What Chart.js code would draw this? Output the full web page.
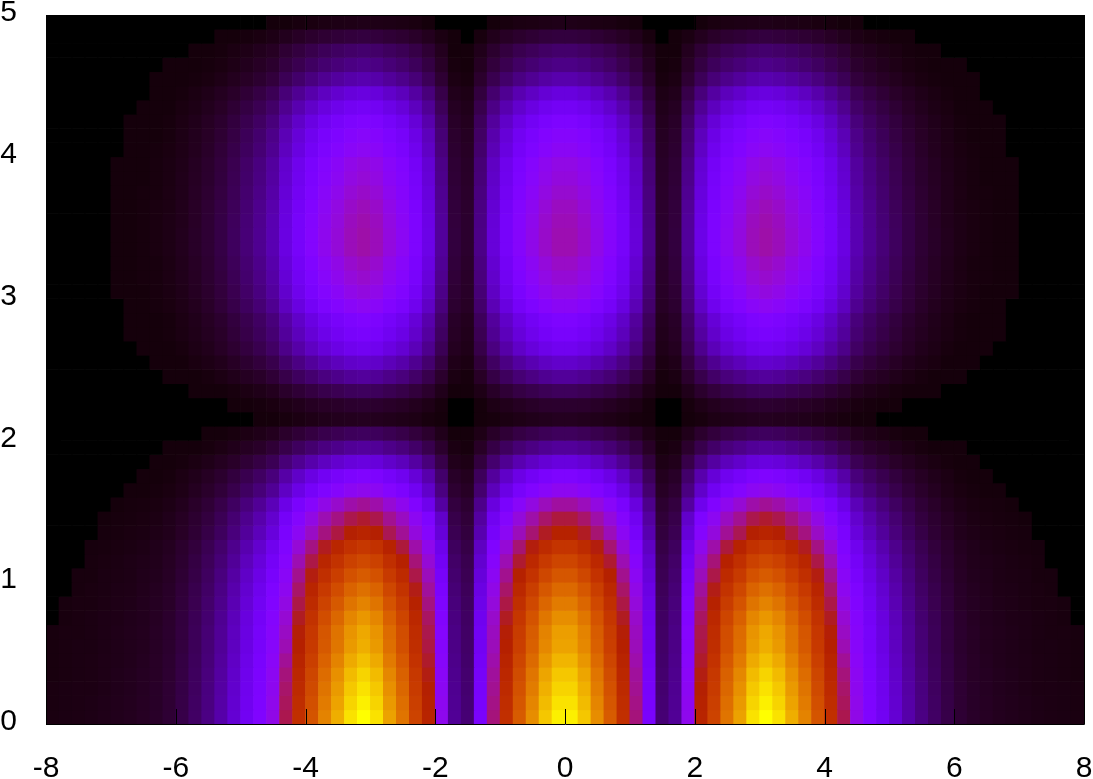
<!DOCTYPE html>
<html><head><meta charset="utf-8"><style>html,body{margin:0;padding:0;background:#fff}canvas{display:block}</style>
<script src="https://cdn.jsdelivr.net/npm/chart.js@4"></script></head><body>
<canvas id="c" width="1093" height="779"></canvas>
<script>
const xTicks=[-8,-6,-4,-2,0,2,4,6,8];
const yTicks=[0,1,2,3,4,5];
const xMin=-8,xCell=0.2,yCell=0.1;
// Cell levels, in thousandths of the colour range; first row is y = 0..0.1
const zRows=[
[10,11,12,13,15,17,19,22,26,33,46,64,86,115,155,200,250,320,450,570,690,800,880,960,1000,960,860,770,640,520,310,100,75,230,420,570,710,820,920,980,980,920,820,710,570,420,230,75,100,310,520,640,770,860,960,1000,960,880,800,690,570,450,320,250,200,155,115,86,64,46,33,26,22,19,17,15,13,12,11,10],
[10,11,12,13,15,17,19,22,25,32,45,63,84,113,152,196,245,314,441,559,676,784,862,941,980,941,843,755,627,510,304,98,74,225,412,559,696,804,902,960,960,902,804,696,559,412,225,74,98,304,510,627,755,843,941,980,941,862,784,676,559,441,314,245,196,152,113,84,63,45,32,25,22,19,17,15,13,12,11,10],
[10,11,12,12,14,16,18,21,25,32,44,61,83,110,149,192,240,307,432,547,662,768,845,922,960,922,826,739,614,499,298,96,72,221,403,547,682,787,883,941,941,883,787,682,547,403,221,72,96,298,499,614,739,826,922,960,922,845,768,662,547,432,307,240,192,149,110,83,61,44,32,25,21,18,16,14,12,12,11,10],
[9,10,11,12,14,16,18,21,24,31,43,60,81,108,146,188,235,301,420,536,649,752,827,902,940,902,808,724,602,489,291,94,71,216,395,536,667,771,865,921,921,865,771,667,536,395,216,71,94,291,489,602,724,808,902,940,902,827,752,649,536,420,301,235,188,146,108,81,60,43,31,24,21,18,16,14,12,11,10,9],
[9,10,11,12,14,15,17,20,24,30,42,58,78,105,141,182,228,291,400,519,628,728,801,874,910,874,783,701,582,473,282,91,68,209,382,519,646,746,837,892,892,837,746,646,519,382,209,68,91,282,473,582,701,783,874,910,874,801,728,628,519,400,291,228,182,141,105,78,58,42,30,24,20,17,15,14,12,11,10,9],
[9,10,11,11,13,15,17,19,23,29,40,56,76,101,136,176,220,282,375,502,607,704,774,845,880,845,757,678,563,458,273,88,66,202,370,502,625,722,810,862,862,810,722,625,502,370,202,66,88,273,458,563,678,757,845,880,845,774,704,607,502,375,282,220,176,136,101,76,56,40,29,23,19,17,15,13,11,11,10,9],
[9,10,10,11,13,15,17,19,23,29,40,56,75,100,135,174,218,278,360,496,600,696,766,835,870,835,748,670,557,452,270,87,65,200,365,496,618,713,800,853,853,800,713,618,496,365,200,65,87,270,452,557,670,748,835,870,835,766,696,600,496,360,278,218,174,135,100,75,56,40,29,23,19,17,15,13,11,10,10,9],
[0,9,10,11,13,14,16,18,22,28,39,54,72,97,130,168,210,269,345,479,580,672,739,806,840,806,722,647,538,437,260,84,63,193,353,479,596,689,773,823,823,773,689,596,479,353,193,63,84,260,437,538,647,722,806,840,806,739,672,580,479,345,269,210,168,130,97,72,54,39,28,22,18,16,14,13,11,10,9,0],
[0,9,10,10,12,14,15,18,21,26,37,51,69,92,124,160,200,256,325,456,552,640,704,768,800,768,688,616,512,416,248,80,60,184,336,456,568,656,736,784,784,736,656,568,456,336,184,60,80,248,416,512,616,688,768,800,768,704,640,552,456,325,256,200,160,124,92,69,51,37,26,21,18,15,14,12,10,10,9,0],
[0,0,9,10,11,13,14,17,20,25,35,49,65,87,118,152,190,243,305,433,524,608,669,730,760,730,654,585,486,395,236,76,57,175,319,433,540,623,699,745,745,699,623,540,433,319,175,57,76,236,395,486,585,654,730,760,730,669,608,524,433,305,243,190,152,118,87,65,49,35,25,20,17,14,13,11,10,9,0,0],
[0,0,9,9,11,12,13,16,18,23,33,45,61,82,110,142,178,227,290,405,490,568,625,682,710,682,611,547,454,369,220,71,53,163,298,405,504,582,653,696,696,653,582,504,405,298,163,53,71,220,369,454,547,611,682,710,682,625,568,490,405,290,227,178,142,110,82,61,45,33,23,18,16,13,12,11,9,9,0,0],
[0,0,0,9,10,11,13,15,17,22,30,42,57,76,102,132,165,211,270,376,455,528,581,634,660,634,568,508,422,343,205,66,50,152,277,376,469,541,607,647,647,607,541,469,376,277,152,50,66,205,343,422,508,568,634,660,634,581,528,455,376,270,211,165,132,102,76,57,42,30,22,17,15,13,11,10,9,0,0,0],
[0,0,0,8,9,10,11,13,16,20,28,38,52,69,93,120,150,192,250,342,414,480,528,576,600,576,516,462,384,312,186,60,45,138,252,342,426,492,552,588,588,552,492,426,342,252,138,45,60,186,312,384,462,516,576,600,576,528,480,414,342,250,192,150,120,93,69,52,38,28,20,16,13,11,10,9,8,0,0,0],
[0,0,0,0,8,9,10,11,14,17,24,33,45,60,81,104,130,166,234,296,359,416,458,499,520,499,447,400,333,270,161,52,39,120,218,296,369,426,478,510,510,478,426,369,296,218,120,39,52,161,270,333,400,447,499,520,499,458,416,359,296,234,166,130,104,81,60,45,33,24,17,14,11,10,9,8,0,0,0,0],
[0,0,0,0,7,8,9,10,12,16,22,30,40,54,73,94,118,150,212,268,324,376,414,451,470,451,404,362,301,244,146,47,35,108,197,268,334,385,432,461,461,432,385,334,268,197,108,35,47,146,244,301,362,404,451,470,451,414,376,324,268,212,150,118,94,73,54,40,30,22,16,12,10,9,8,7,0,0,0,0],
[0,0,0,0,0,7,8,9,10,13,18,26,34,46,62,80,100,128,180,228,276,320,352,384,400,384,344,308,256,188,108,40,30,92,168,228,284,328,368,392,392,368,328,284,228,168,92,30,40,108,188,256,308,344,384,400,384,352,320,276,228,180,128,100,80,62,46,34,26,18,13,10,9,8,7,0,0,0,0,0],
[0,0,0,0,0,0,7,7,8,10,14,20,27,36,48,62,78,99,140,177,214,248,273,298,310,298,267,239,198,146,84,31,23,71,130,177,220,254,285,304,304,285,254,220,177,130,71,23,31,84,146,198,239,267,298,310,298,273,248,214,177,140,99,78,62,48,36,27,20,14,10,8,7,7,0,0,0,0,0,0],
[0,0,0,0,0,0,0,7,7,8,12,16,22,29,39,50,63,80,113,143,173,200,220,240,250,240,215,193,160,118,68,25,19,58,105,143,178,205,230,245,245,230,205,178,143,105,58,19,25,68,118,160,193,215,240,250,240,220,200,173,143,113,80,63,50,39,29,22,16,12,8,7,7,0,0,0,0,0,0,0],
[0,0,0,0,0,0,0,0,7,7,8,11,15,20,26,34,43,54,77,97,117,136,150,163,170,163,146,131,109,80,46,17,13,39,71,97,121,139,156,167,167,156,139,121,97,71,39,13,17,46,80,109,131,146,163,170,163,150,136,117,97,77,54,43,34,26,20,15,11,8,7,7,0,0,0,0,0,0,0,0],
[0,0,0,0,0,0,0,0,0,7,7,7,9,12,16,21,26,34,47,60,72,84,92,101,105,101,90,81,67,49,28,11,8,24,44,60,75,86,97,103,103,97,86,75,60,44,24,8,11,28,49,67,81,90,101,105,101,92,84,72,60,47,34,26,21,16,12,9,7,7,7,0,0,0,0,0,0,0,0,0],
[0,0,0,0,0,0,0,0,0,0,0,0,7,7,9,12,15,19,27,34,41,48,53,58,60,58,52,46,38,28,16,7,7,14,25,34,43,49,55,59,59,55,49,43,34,25,14,7,7,16,28,38,46,52,58,60,58,53,48,41,34,27,19,15,12,9,7,7,0,0,0,0,0,0,0,0,0,0,0,0],
[0,0,0,0,0,0,0,0,0,0,0,0,0,0,0,0,7,7,9,11,14,16,18,19,20,19,17,15,13,9,7,0,0,7,8,11,14,16,18,20,20,18,16,14,11,8,7,0,0,7,9,13,15,17,19,20,19,18,16,14,11,9,7,7,0,0,0,0,0,0,0,0,0,0,0,0,0,0,0,0],
[0,0,0,0,0,0,0,0,0,0,0,0,0,0,7,7,8,10,14,17,21,24,26,29,30,29,26,23,19,14,8,0,0,7,13,17,21,25,28,29,29,28,25,21,17,13,7,0,0,8,14,19,23,26,29,30,29,26,24,21,17,14,10,8,7,7,0,0,0,0,0,0,0,0,0,0,0,0,0,0],
[0,0,0,0,0,0,0,0,0,0,0,7,7,7,9,12,15,19,27,34,41,48,53,58,60,58,52,46,38,28,16,7,7,14,25,34,43,49,55,59,59,55,49,43,34,25,14,7,7,16,28,38,46,52,58,60,58,53,48,41,34,27,19,15,12,9,7,7,7,0,0,0,0,0,0,0,0,0,0,0],
[0,0,0,0,0,0,0,0,0,7,7,7,9,12,16,21,26,34,47,60,72,84,92,101,105,101,90,81,67,49,28,11,8,24,44,60,75,86,97,103,103,97,86,75,60,44,24,8,11,28,49,67,81,90,101,105,101,92,84,72,60,47,34,26,21,16,12,9,7,7,7,0,0,0,0,0,0,0,0,0],
[0,0,0,0,0,0,0,0,7,7,7,10,13,17,23,30,38,48,68,86,104,120,132,144,150,144,129,116,96,71,41,15,11,35,63,86,107,123,138,147,147,138,123,107,86,63,35,11,15,41,71,96,116,129,144,150,144,132,120,104,86,68,48,38,30,23,17,13,10,7,7,7,0,0,0,0,0,0,0,0],
[0,0,0,0,0,0,0,7,7,7,9,13,17,23,31,40,50,64,90,114,138,160,176,192,200,192,172,154,128,94,54,20,15,46,84,114,142,164,184,196,196,184,164,142,114,84,46,15,20,54,94,128,154,172,192,200,192,176,160,138,114,90,64,50,40,31,23,17,13,9,7,7,7,0,0,0,0,0,0,0],
[0,0,0,0,0,0,7,7,7,8,11,15,20,26,36,46,58,74,104,131,159,184,202,221,230,221,198,177,147,108,62,23,17,53,97,131,163,189,212,225,225,212,189,163,131,97,53,17,23,62,108,147,177,198,221,230,221,202,184,159,131,104,74,58,46,36,26,20,15,11,8,7,7,7,0,0,0,0,0,0],
[0,0,0,0,0,0,7,7,7,8,12,16,22,29,39,50,63,80,113,143,173,200,220,240,250,240,215,193,160,118,68,25,19,58,105,143,178,205,230,245,245,230,205,178,143,105,58,19,25,68,118,160,193,215,240,250,240,220,200,173,143,113,80,63,50,39,29,22,16,12,8,7,7,7,0,0,0,0,0,0],
[0,0,0,0,0,0,7,7,8,10,14,19,26,35,47,60,75,96,135,171,207,240,264,288,300,288,258,231,192,141,81,30,23,69,126,171,213,246,276,294,294,276,246,213,171,126,69,23,30,81,141,192,231,258,288,300,288,264,240,207,171,135,96,75,60,47,35,26,19,14,10,8,7,7,0,0,0,0,0,0],
[0,0,0,0,0,7,7,7,9,11,15,21,28,38,51,66,83,106,149,188,228,264,290,317,330,317,284,254,211,155,89,33,25,76,139,188,234,271,304,323,323,304,271,234,188,139,76,25,33,89,155,211,254,284,317,330,317,290,264,228,188,149,106,83,66,51,38,28,21,15,11,9,7,7,7,0,0,0,0,0],
[0,0,0,0,0,7,7,8,9,12,16,22,30,40,54,70,88,112,158,200,242,280,308,336,350,336,301,270,224,165,95,35,26,81,147,200,249,287,322,343,343,322,287,249,200,147,81,26,35,95,165,224,270,301,336,350,336,308,280,242,200,158,112,88,70,54,40,30,22,16,12,9,8,7,7,0,0,0,0,0],
[0,0,0,0,0,7,7,8,9,12,17,23,31,42,57,73,91,117,164,208,252,292,321,350,365,350,314,281,234,172,99,37,27,84,153,208,259,299,336,358,358,336,299,259,208,153,84,27,37,99,172,234,281,314,350,365,350,321,292,252,208,164,117,91,73,57,42,31,23,17,12,9,8,7,7,0,0,0,0,0],
[0,0,0,0,0,7,7,8,10,13,18,25,33,44,60,77,96,123,173,219,266,308,339,370,385,370,331,296,246,181,104,39,29,89,162,219,273,316,354,377,377,354,316,273,219,162,89,29,39,104,181,246,296,331,370,385,370,339,308,266,219,173,123,96,77,60,44,33,25,18,13,10,8,7,7,0,0,0,0,0],
[0,0,0,0,0,7,7,8,10,13,18,25,33,44,60,77,96,123,173,219,266,308,339,370,385,370,331,296,246,181,104,39,29,89,162,219,273,316,354,377,377,354,316,273,219,162,89,29,39,104,181,246,296,331,370,385,370,339,308,266,219,173,123,96,77,60,44,33,25,18,13,10,8,7,7,0,0,0,0,0],
[0,0,0,0,0,7,7,8,10,13,17,24,33,44,59,76,95,122,171,217,262,304,334,365,380,365,327,293,243,179,103,38,29,87,160,217,270,312,350,372,372,350,312,270,217,160,87,29,38,103,179,243,293,327,365,380,365,334,304,262,217,171,122,95,76,59,44,33,24,17,13,10,8,7,7,0,0,0,0,0],
[0,0,0,0,0,7,7,8,10,12,17,24,32,43,57,74,93,118,167,211,255,296,326,355,370,355,318,285,237,174,100,37,28,85,155,211,263,303,340,363,363,340,303,263,211,155,85,28,37,100,174,237,285,318,355,370,355,326,296,255,211,167,118,93,74,57,43,32,24,17,12,10,8,7,7,0,0,0,0,0],
[0,0,0,0,0,7,7,8,9,12,16,23,31,41,55,71,89,114,160,202,245,284,312,341,355,341,305,273,227,167,96,36,27,82,149,202,252,291,327,348,348,327,291,252,202,149,82,27,36,96,167,227,273,305,341,355,341,312,284,245,202,160,114,89,71,55,41,31,23,16,12,9,8,7,7,0,0,0,0,0],
[0,0,0,0,0,7,7,7,9,11,16,22,29,39,53,68,85,109,153,194,235,272,299,326,340,326,292,262,218,160,92,34,26,78,143,194,241,279,313,333,333,313,279,241,194,143,78,26,34,92,160,218,262,292,326,340,326,299,272,235,194,153,109,85,68,53,39,29,22,16,11,9,7,7,7,0,0,0,0,0],
[0,0,0,0,0,7,7,7,9,11,15,21,28,38,51,66,83,106,149,188,228,264,290,317,330,317,284,254,211,155,89,33,25,76,139,188,234,271,304,323,323,304,271,234,188,139,76,25,33,89,155,211,254,284,317,330,317,290,264,228,188,149,106,83,66,51,38,28,21,15,11,9,7,7,7,0,0,0,0,0],
[0,0,0,0,0,0,7,7,8,10,14,19,26,35,47,60,75,96,135,171,207,240,264,288,300,288,258,231,192,141,81,30,23,69,126,171,213,246,276,294,294,276,246,213,171,126,69,23,30,81,141,192,231,258,288,300,288,264,240,207,171,135,96,75,60,47,35,26,19,14,10,8,7,7,0,0,0,0,0,0],
[0,0,0,0,0,0,7,7,7,9,13,18,24,32,43,56,70,90,126,160,193,224,246,269,280,269,241,216,179,132,76,28,21,64,118,160,199,230,258,274,274,258,230,199,160,118,64,21,28,76,132,179,216,241,269,280,269,246,224,193,160,126,90,70,56,43,32,24,18,13,9,7,7,7,0,0,0,0,0,0],
[0,0,0,0,0,0,7,7,7,8,12,16,22,29,39,50,63,80,113,143,173,200,220,240,250,240,215,193,160,118,68,25,19,58,105,143,178,205,230,245,245,230,205,178,143,105,58,19,25,68,118,160,193,215,240,250,240,220,200,173,143,113,80,63,50,39,29,22,16,12,8,7,7,7,0,0,0,0,0,0],
[0,0,0,0,0,0,0,7,7,7,10,13,18,24,33,42,53,67,95,120,145,168,185,202,210,202,181,162,134,99,57,21,16,48,88,120,149,172,193,206,206,193,172,149,120,88,48,16,21,57,99,134,162,181,202,210,202,185,168,145,120,95,67,53,42,33,24,18,13,10,7,7,7,0,0,0,0,0,0,0],
[0,0,0,0,0,0,0,0,7,7,8,11,15,20,26,34,43,54,77,97,117,136,150,163,170,163,146,131,109,80,46,17,13,39,71,97,121,139,156,167,167,156,139,121,97,71,39,13,17,46,80,109,131,146,163,170,163,150,136,117,97,77,54,43,34,26,20,15,11,8,7,7,0,0,0,0,0,0,0,0],
[0,0,0,0,0,0,0,0,7,7,7,8,10,14,19,24,30,38,54,68,83,96,106,115,120,115,103,92,77,56,32,12,9,28,50,68,85,98,110,118,118,110,98,85,68,50,28,9,12,32,56,77,92,103,115,120,115,106,96,83,68,54,38,30,24,19,14,10,8,7,7,7,0,0,0,0,0,0,0,0],
[0,0,0,0,0,0,0,0,0,7,7,7,8,10,14,18,23,29,41,51,62,72,79,86,90,86,77,69,58,42,24,9,7,21,38,51,64,74,83,88,88,83,74,64,51,38,21,7,9,24,42,58,69,77,86,90,86,79,72,62,51,41,29,23,18,14,10,8,7,7,7,0,0,0,0,0,0,0,0,0],
[0,0,0,0,0,0,0,0,0,0,0,7,7,8,11,14,18,22,32,40,48,56,62,67,70,67,60,54,45,33,19,7,7,16,29,40,50,57,64,69,69,64,57,50,40,29,16,7,7,19,33,45,54,60,67,70,67,62,56,48,40,32,22,18,14,11,8,7,7,0,0,0,0,0,0,0,0,0,0,0],
[0,0,0,0,0,0,0,0,0,0,0,0,0,7,7,8,10,13,18,23,28,32,35,38,40,38,34,31,26,19,11,7,0,9,17,23,28,33,37,39,39,37,33,28,23,17,9,0,7,11,19,26,31,34,38,40,38,35,32,28,23,18,13,10,8,7,7,0,0,0,0,0,0,0,0,0,0,0,0,0],
[0,0,0,0,0,0,0,0,0,0,0,0,0,0,0,0,0,7,7,9,10,12,13,14,15,14,13,12,10,7,0,0,0,0,7,9,11,12,14,15,15,14,12,11,9,7,0,0,0,0,7,10,12,13,14,15,14,13,12,10,9,7,7,0,0,0,0,0,0,0,0,0,0,0,0,0,0,0,0,0]
];
function pal(v){const r=Math.sqrt(v),g=v*v*v,b=Math.max(0,Math.sin(2*Math.PI*v));return `rgb(${Math.round(r*255)},${Math.round(g*255)},${Math.round(b*255)})`;}
const cells=[],colors=[];
zRows.forEach((row,ry)=>row.forEach((z,ix)=>{const x=+(xMin+xCell*(ix+.5)).toFixed(2);cells.push({x,y:[+(ry*yCell).toFixed(2),+((ry+1)*yCell).toFixed(2)]});colors.push(pal(z/1000));}));
const frame={id:'frame',afterDatasetsDraw(ch){const {ctx,chartArea:a,scales:{x,y}}=ch;ctx.save();ctx.strokeStyle='#000';ctx.lineWidth=1;ctx.beginPath();
 ctx.rect(a.left+.5,a.top+.5,a.right-a.left,a.bottom-a.top);
 xTicks.forEach(t=>{const p=Math.round(x.getPixelForValue(t))+.5;ctx.moveTo(p,a.bottom);ctx.lineTo(p,a.bottom-15);ctx.moveTo(p,a.top);ctx.lineTo(p,a.top+15);});
 yTicks.forEach(t=>{const p=Math.round(y.getPixelForValue(t))+.5;ctx.moveTo(a.left,p);ctx.lineTo(a.left+15,p);ctx.moveTo(a.right,p);ctx.lineTo(a.right-15,p);});
 ctx.stroke();ctx.restore();}};
const font={family:'"Liberation Sans"',size:30};
const noPad=s=>{s.paddingLeft=s.paddingRight=s.paddingTop=s.paddingBottom=0;};
new Chart(document.getElementById('c'),{type:'bar',plugins:[frame],data:{datasets:[{data:cells,backgroundColor:colors,borderWidth:0,barPercentage:1,categoryPercentage:1}]},
options:{responsive:false,animation:false,events:[],layout:{autoPadding:false,padding:{top:15,right:9,left:0,bottom:0}},plugins:{legend:{display:false},tooltip:{enabled:false}},
scales:{x:{type:'linear',offset:false,min:-8,max:8,grid:{display:false,drawTicks:false,offset:false},border:{display:false},afterFit(s){s.height=55;noPad(s)},afterBuildTicks(s){s.ticks=xTicks.map(v=>({value:v}))},ticks:{color:'#000',font,padding:27,maxRotation:0,autoSkip:false}},
y:{type:'linear',min:0,max:5,grid:{display:false,drawTicks:false},border:{display:false},afterFit(s){s.width=46;noPad(s)},afterBuildTicks(s){s.ticks=yTicks.map(v=>({value:v}))},ticks:{color:'#000',font,padding:29,labelOffset:-2,autoSkip:false}}}}});
</script></body></html>
